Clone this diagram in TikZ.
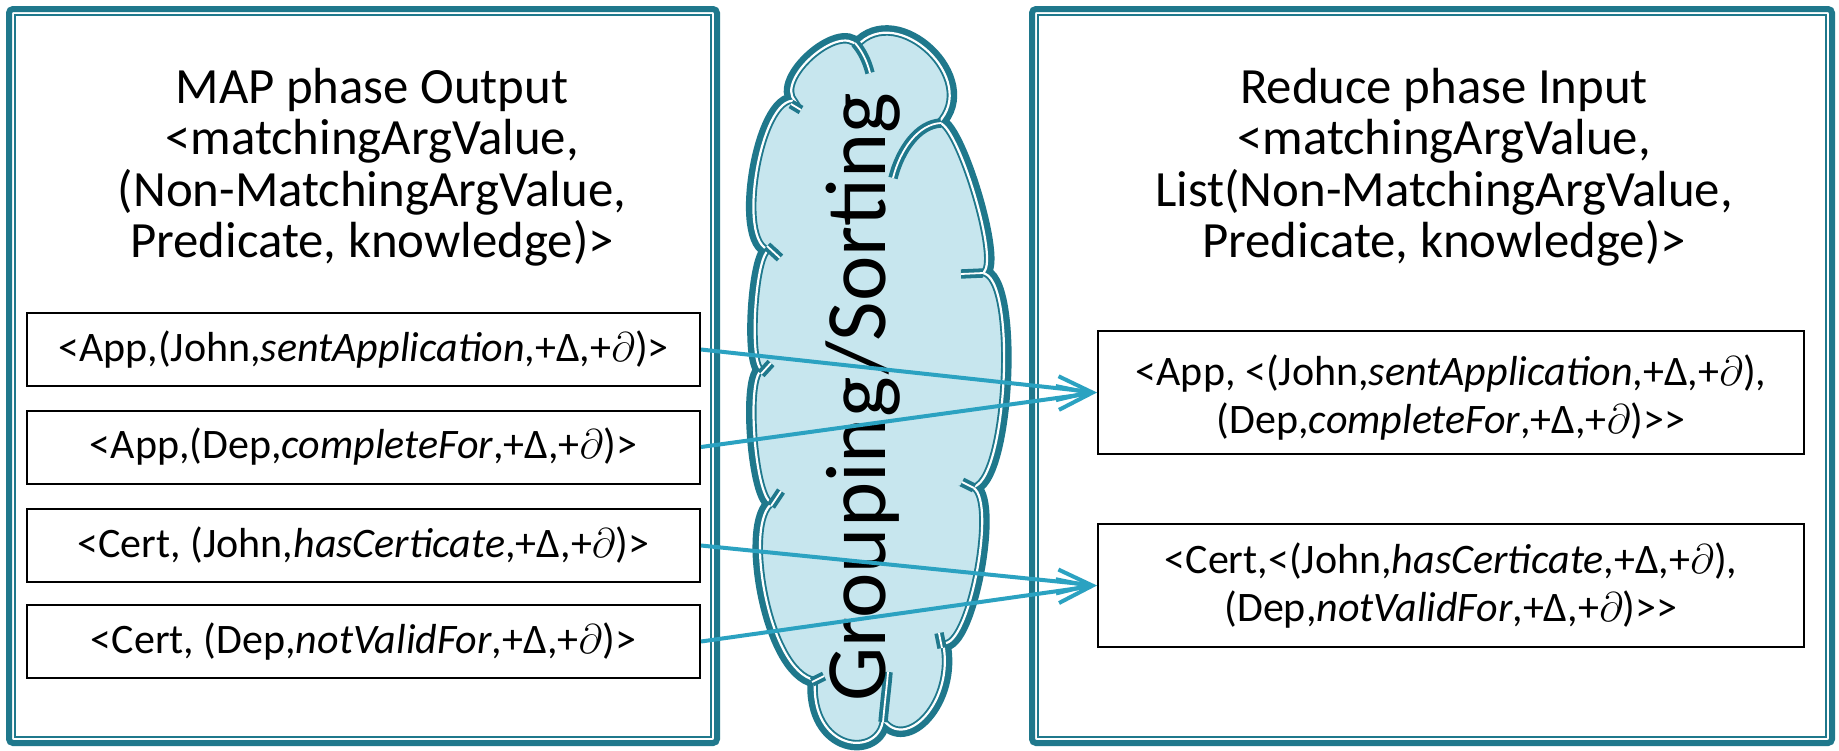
\documentclass[tikz,border=0pt]{standalone}
\usepackage{fontspec}
\setmainfont{Carlito}
\usetikzlibrary{arrows.meta}
\definecolor{frameteal}{RGB}{31,120,140}
\definecolor{cloudfill}{RGB}{199,230,238}
\definecolor{arrowblue}{RGB}{43,162,193}
\def\cloudoutline{(795,101) .. controls (775.1,79.8) and (839.1,22.8) .. (857,46)
 .. controls (897.3,1.2) and (980.3,80.2) .. (938,123)
 .. controls (956.2,117.8) and (1002.2,267.8) .. (982,273)
 .. controls (1018,274.7) and (1007,488.7) .. (971,487)
 .. controls (998.6,491.6) and (969.6,649.6) .. (943,643)
 .. controls (955,702) and (905,752) .. (883,719)
 .. controls (880,758) and (810,752) .. (815,680)
 .. controls (768,672) and (743,520) .. (773,503)
 .. controls (755,504.2) and (745,371.2) .. (763,370)
 .. controls (748,369.6) and (755,249.6) .. (770,250)
 .. controls (735.4,244.6) and (760.4,94.6) .. (795,101)
 -- cycle}
\begin{document}
\begin{tikzpicture}[x=0.5pt,y=-0.5pt,
  outerframe/.style={draw=frameteal, line width=3pt, rounded corners=2pt, inner sep=0pt, outer sep=0pt, minimum height=367pt},
  innerframe/.style={draw=frameteal, line width=1pt},
  titletext/.style={align=center, font=\fontsize{25.4}{25.6}\selectfont, inner sep=0pt},
  mapitem/.style={draw=black, line width=1pt, minimum width=336.5pt, minimum height=36.5pt, inner sep=0pt, font=\fontsize{21}{23.5}\selectfont},
  redbox/.style={draw=black, line width=1pt, minimum width=353pt, minimum height=61.5pt, inner sep=0pt},
  redtext/.style={inner sep=0pt, align=center, font=\fontsize{21}{24}\selectfont},
  flow/.style={draw=arrowblue, line width=2pt, -{Straight Barb[length=17pt,width=12pt]}},
  cloudarc/.style={draw=frameteal, double=white, double distance=0.9pt, line width=1.9pt}
]
\useasboundingbox (0,0) rectangle (1839,750);
\fill[white] (0,0) rectangle (1839,750);

% outer frames
\node[outerframe, minimum width=354pt] (mapframe) at (363,376) {};
\draw[innerframe] ([shift={(6,6)}]mapframe.north west) rectangle ([shift={(-6,-6)}]mapframe.south east);
\node[outerframe, minimum width=400pt] (redframe) at (1432,376) {};
\draw[innerframe] ([shift={(6,6)}]redframe.north west) rectangle ([shift={(-6,-6)}]redframe.south east);

% titles
\node[titletext, anchor=north] (maptitle) at (372,68) {MAP phase Output\\<matchingArgValue,\\(Non-MatchingArgValue,\\Predicate, knowledge)>};
\node[titletext, anchor=north] (redtitle) at (1444,68) {Reduce phase Input\\<matchingArgValue,\\List(Non-MatchingArgValue,\\Predicate, knowledge)>};

% cloud: thick outer line, white gap, thin inner line
\draw[frameteal, line width=7.5pt] \cloudoutline;
\fill[cloudfill] \cloudoutline;
\begin{scope}
  \clip \cloudoutline;
  \draw[frameteal, line width=3pt] \cloudoutline;
\end{scope}
\draw[white, line width=1.1pt] \cloudoutline;
% inner arcs and ticks of the cloud
\draw[cloudarc] (855,43) .. controls (862,51) and (867,61) .. (870,73);
\draw[cloudarc] (893,178) .. controls (900,150) and (918,124) .. (941,123);
\draw[cloudarc] (883,722) .. controls (885,700) and (887,685) .. (888,672);
\draw[cloudarc] (791,104) -- (801,110);
\draw[cloudarc] (983,273) -- (961,274);
\draw[cloudarc] (974,488) -- (962,482);
\draw[cloudarc] (942,648) -- (939,633);
\draw[cloudarc] (812,682) -- (824,676);
\draw[cloudarc] (771,506) -- (781,491);
\draw[cloudarc] (761,374) -- (771,363);
\draw[cloudarc] (767,246) -- (780,258);
\node[rotate=90, anchor=base, inner sep=0pt, font=\fontsize{43}{50}\selectfont] (gs) at (885,397) {Grouping/Sorting};

% map items
\node[mapitem] (m1) at (363.5,349.5) {<App,(John,\textit{sentApplication},+Δ,+$\partial$)>};
\node[mapitem] (m2) at (363.5,447) {<App,(Dep,\textit{completeFor},+Δ,+$\partial$)>};
\node[mapitem] (m3) at (363.5,545.5) {<Cert, (John,\textit{hasCerticate},+Δ,+$\partial$)>};
\node[mapitem] (m4) at (363.5,641.5) {<Cert, (Dep,\textit{notValidFor},+Δ,+$\partial$)>};

% reduce items
\node[redbox] (r1) at (1451,392.5) {};
\node[redtext] (r1text) at (1451,398) {<App, <(John,\textit{sentApplication},+Δ,+$\partial$),\\(Dep,\textit{completeFor},+Δ,+$\partial$)>{}>};
\node[redbox] (r2) at (1451,585.5) {};
\node[redtext] (r2text) at (1451,585.5) {<Cert,<(John,\textit{hasCerticate},+Δ,+$\partial$),\\(Dep,\textit{notValidFor},+Δ,+$\partial$)>{}>};

% arrows
\draw[flow] (m1.east) -- (r1.west);
\draw[flow] (m2.east) -- (r1.west);
\draw[flow] (m3.east) -- (r2.west);
\draw[flow] (m4.east) -- (r2.west);
\end{tikzpicture}
\end{document}
